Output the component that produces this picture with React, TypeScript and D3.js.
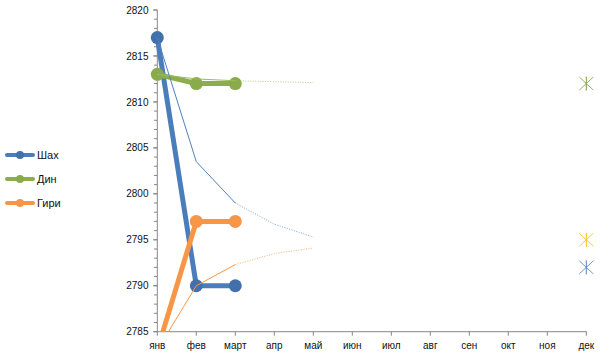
import React from "react";
import * as d3 from "d3";

const months = ["янв", "фев", "март", "апр", "май", "июн", "июл", "авг", "сен", "окт", "ноя", "дек"];
const seriesNames = ["Шах", "Дин", "Гири"];
const shakh = [2817, 2790, 2790];
const ding = [2813, 2812, 2812];
const giri = [2783, 2797, 2797];
// running averages (solid) + forecast (dotted)
const shakhTrend = [2817, 2803.5, 2799, 2796.7, 2795.3];
const dingTrend = [2813, 2812.5, 2812.3, 2812.2, 2812.1];
const giriTrend = [2783, 2790, 2792.3, 2793.5, 2794.1];
// asterisk markers at дек
const decMarks = [2812, 2795, 2792];
const yTicksMajor = [2785, 2790, 2795, 2800, 2805, 2810, 2815, 2820];

const lineColors = ["#4a7ebb", "#8cad4d", "#f79646"];
const markerColors = ["#4170aa", "#8aab4c", "#f79646"];
const trendColors = ["#4f81bd", "#9bbb59", "#f79646"];
const asteriskColors = ["#77a03a", "#ffc000", "#4f81bd"];

const W = 614;
const H = 359;
const FONT = "'Liberation Sans', Arial, sans-serif";

export default function App() {
  const x = d3.scalePoint<string>().domain(months).range([157.3, 586.3]);
  const y = d3.scaleLinear().domain([2785, 2820]).range([331.7, 10]);
  const minorTicks = d3.range(2785, 2821, 1);
  const line = d3
    .line<number>()
    .x((_, i) => x(months[i]) as number)
    .y((v) => y(v));

  const mains = [shakh, ding, giri];
  const trends = [shakhTrend, dingTrend, giriTrend];
  const axisColor = "#878787";

  const trendSolid = (t: number[]) => line(t.slice(0, 3));
  const trendDotted = (t: number[]) =>
    d3
      .line<number>()
      .x((_, i) => x(months[i + 2]) as number)
      .y((v) => y(v))(t.slice(2));

  return (
    <svg
      width={W}
      height={H}
      style={{ position: "absolute", left: 0, top: 0, background: "#fff" }}
      fontFamily={FONT}
    >
      <defs>
        <clipPath id="plotClip">
          <rect x={0} y={0} width={W} height={y(2785)} />
        </clipPath>
      </defs>

      {/* y axis */}
      <line x1={157.3} x2={157.3} y1={y(2820)} y2={y(2785)} stroke={axisColor} strokeWidth={1} />
      {minorTicks.map((t) => (
        <line key={"m" + t} x1={154} x2={157.3} y1={y(t)} y2={y(t)} stroke={axisColor} strokeWidth={1} />
      ))}
      {yTicksMajor.map((t) => (
        <g key={"t" + t}>
          <line x1={153} x2={157.3} y1={y(t)} y2={y(t)} stroke={axisColor} strokeWidth={1} />
          <text x={148.5} y={y(t)} dy="0.36em" textAnchor="end" fontSize={10} fill="#111">
            {t}
          </text>
        </g>
      ))}

      {/* x axis */}
      <line x1={157.3} x2={586.8} y1={y(2785)} y2={y(2785)} stroke={axisColor} strokeWidth={1} />
      {months.map((m) => (
        <g key={m}>
          <line x1={x(m)} x2={x(m)} y1={y(2785)} y2={y(2785) + 4} stroke={axisColor} strokeWidth={1} />
          <text x={x(m)} y={348.5} textAnchor="middle" fontSize={10} fill="#111">
            {m}
          </text>
        </g>
      ))}

      <g clipPath="url(#plotClip)">
        {/* main series */}
        {mains.map((s, k) => (
          <g key={"s" + k}>
            <path
              d={line(s) || ""}
              fill="none"
              stroke={lineColors[k]}
              strokeWidth={5}
              strokeLinejoin="round"
              strokeLinecap="round"
            />
            {s.map((v, i) => (
              <circle key={i} cx={x(months[i])} cy={y(v)} r={6.5} fill={markerColors[k]} />
            ))}
          </g>
        ))}
        {/* trends */}
        {trends.map((t, k) => (
          <g key={"tr" + k}>
            <path d={trendSolid(t) || ""} fill="none" stroke={trendColors[k]} strokeWidth={1} />
            <path
              d={trendDotted(t) || ""}
              fill="none"
              stroke={trendColors[k]}
              strokeWidth={1}
              strokeDasharray="1,1.5"
              opacity={0.75}
            />
          </g>
        ))}
      </g>

      {/* asterisk markers at дек */}
      {decMarks.map((v, k) => {
        const cx = x("дек") as number;
        const cy = y(v);
        const c = asteriskColors[k];
        return (
          <g key={"a" + k} stroke={c} strokeWidth={1}>
            <line x1={cx} x2={cx} y1={cy - 7} y2={cy + 7} />
            <line x1={cx - 7} x2={cx + 7} y1={cy - 6.5} y2={cy + 6.5} opacity={0.8} />
            <line x1={cx - 7} x2={cx + 7} y1={cy + 6.5} y2={cy - 6.5} opacity={0.8} />
          </g>
        );
      })}

      {/* legend */}
      {seriesNames.map((n, k) => {
        const ly = 155 + k * 24;
        return (
          <g key={"l" + k}>
            <line x1={7} x2={33} y1={ly} y2={ly} stroke={lineColors[k]} strokeWidth={4} strokeLinecap="round" />
            <circle cx={20} cy={ly} r={4} fill={markerColors[k]} />
            <text x={37} y={ly} dy="0.36em" fontSize={11} fill="#111">
              {n}
            </text>
          </g>
        );
      })}
    </svg>
  );
}
